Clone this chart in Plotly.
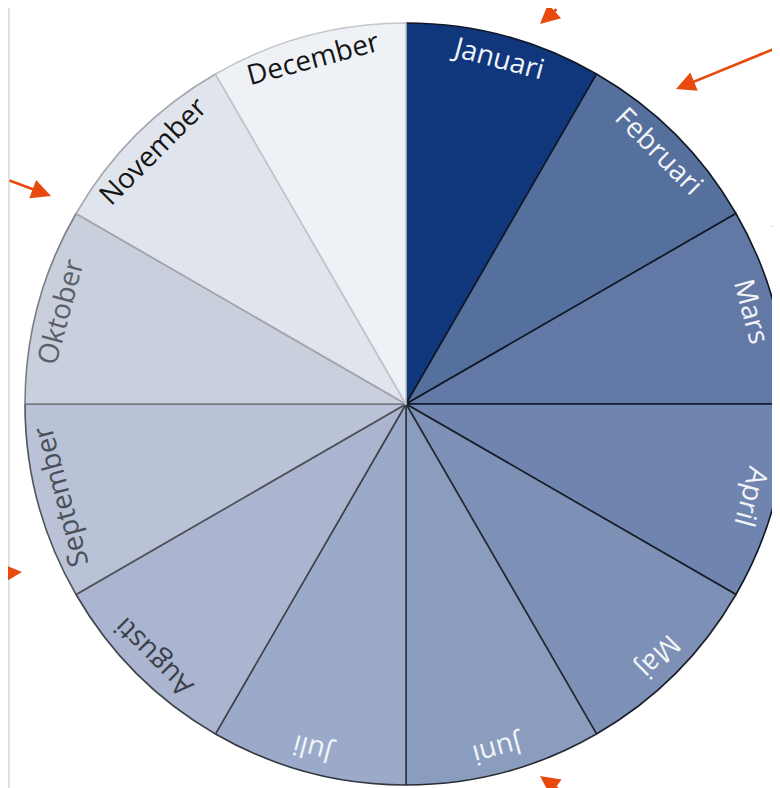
import math
import plotly.graph_objects as go

# ---- data ----
months = ["Januari", "Februari", "Mars", "April", "Maj", "Juni",
          "Juli", "Augusti", "September", "Oktober", "November", "December"]
values = [1, 1, 1, 1, 1, 1, 1, 1, 1, 1, 1, 1]
slice_colors = ["#10377b", "#56709e", "#6279a6", "#6f84ae", "#7d90b6", "#8b9dbf",
                "#9aaac8", "#abb5cf", "#b9c2d7", "#c9cfdd", "#e0e4ec", "#eef1f6"]
line_colors = ["#101828", "#101828", "#101828", "#101828", "#1a1f2a", "#262b33",
               "#333840", "#40444a", "#50545a", "#7a7e84", "#a4a7ac", "#c4c6ca"]
text_colors = ["#f2f4f8", "#f2f4f8", "#f2f4f8", "#f2f4f8", "#f2f4f8", "#f2f4f8",
               "#f2f4f8", "#3a3f4a", "#4a4f58", "#5a5f68", "#151515", "#151515"]

# ---- layout geometry (pixels, figure coordinates; page adds an 8px body margin) ----
W, H = 780, 788
CX, CY, R = 398, 396, 381
LABEL_R = 359


def px(x):
    return x / W


def py(y):
    return 1 - y / H


fig = go.Figure()
fig.add_trace(go.Pie(
    labels=months,
    values=values,
    sort=False,
    direction="clockwise",
    rotation=0,
    textinfo="none",
    hoverinfo="label",
    marker=dict(colors=slice_colors, line=dict(color=line_colors, width=1.6)),
    domain=dict(x=[px(CX - R), px(CX + R)], y=[py(CY + R), py(CY - R)]),
    showlegend=False,
))

annotations = []
total = sum(values)
cum = 0
for m, v, tc in zip(months, values, text_colors):
    mid = (cum + v / 2) / total * 360.0
    cum += v
    a = math.radians(mid)
    x = CX + LABEL_R * math.sin(a)
    y = CY - LABEL_R * math.cos(a)
    ang = mid if mid <= 180 else mid - 360
    annotations.append(dict(
        x=px(x), y=py(y), xref="paper", yref="paper",
        text=m, showarrow=False, textangle=ang,
        xanchor="center", yanchor="middle",
        font=dict(family="Open Sans, sans-serif", size=28, color=tc),
    ))

# decorative arrows: (tip_x, tip_y, tail_dx, tail_dy) in pixels
arrows = [(532, 16, 18, -32), (668, 81, 110, -45), (763, 219, 40, -12),
          (43, 188, -60, -16), (14, 564, -30, 1), (532, 768, 25, 18)]
for tx, ty, dx, dy in arrows:
    annotations.append(dict(
        x=px(tx), y=py(ty), xref="paper", yref="paper", text="",
        showarrow=True, ax=dx, ay=dy, arrowhead=2, arrowsize=1.5,
        arrowwidth=2.6, arrowcolor="#e84a0e", standoff=0,
    ))

fig.update_layout(
    width=W, height=H,
    margin=dict(l=0, r=0, t=0, b=0),
    paper_bgcolor="#e1e1e1",
    plot_bgcolor="white",
    shapes=[dict(type="rect", xref="paper", yref="paper",
                 x0=px(2), x1=1.0, y0=0, y1=1.0,
                 fillcolor="white", line=dict(width=0), layer="below")],
    annotations=annotations,
)

fig.write_html("out.html")
